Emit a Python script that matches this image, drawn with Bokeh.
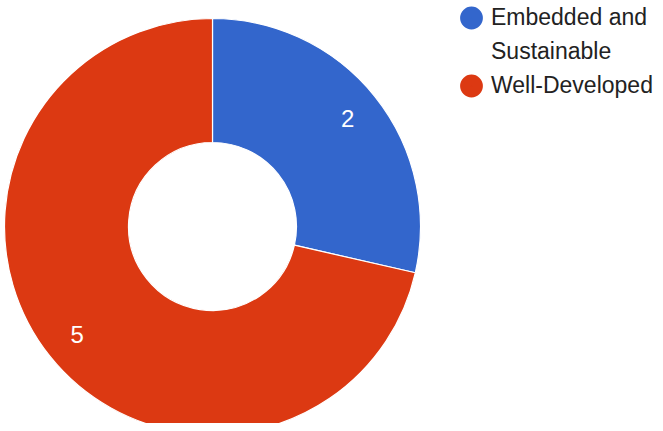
import numpy as np
from bokeh.plotting import figure
from bokeh.models import Range1d, ColumnDataSource, Legend, LegendItem
from bokeh.core.properties import value
from bokeh.embed import file_html
from bokeh.resources import INLINE

categories = ["Embedded and Sustainable", "Well-Developed"]
legend_lines = [["Embedded and", "Sustainable"], ["Well-Developed"]]
counts = [2, 5]
colors = ["#3366cc", "#dc3912"]

W, H = 655, 423
CX, CY = 212, 197
R_OUT, R_IN, R_LBL = 208, 84, 173

vals = np.array(counts, dtype=float)
fr = vals / vals.sum()
ends = np.cumsum(fr)
starts = ends - fr
start_angle = np.pi / 2 - 2 * np.pi * starts
end_angle = np.pi / 2 - 2 * np.pi * ends
mid = (start_angle + end_angle) / 2

src = ColumnDataSource(dict(
    cat=categories, val=counts, color=colors,
    sa=start_angle, ea=end_angle,
    lx=CX + R_LBL * np.cos(mid), ly=CY + R_LBL * np.sin(mid),
    lbl=[str(v) for v in counts],
))

p = figure(width=W, height=H, x_range=Range1d(0, W), y_range=Range1d(0, H),
           x_axis_type=None, y_axis_type=None, min_border=0,
           toolbar_location=None, output_backend="svg", outline_line_color=None)
p.grid.visible = False

p.annular_wedge(x=CX, y=CY, inner_radius=R_IN, outer_radius=R_OUT,
                inner_radius_units="screen", outer_radius_units="screen",
                start_angle="sa", end_angle="ea", direction="clock",
                fill_color="color", line_color="white", line_width=1.2, source=src)

p.text(x="lx", y="ly", text="lbl", source=src, text_color="white",
       text_font=value("Liberation Sans"), text_font_size="24px",
       text_align="center", text_baseline="middle")

items = []
for lines, col in zip(legend_lines, colors):
    for i, line in enumerate(lines):
        alpha = 1.0 if i == 0 else 0.0
        r = p.scatter(x=[np.nan], y=[np.nan], marker="circle", fill_color=col,
                      line_color=col, line_width=12, size=10,
                      fill_alpha=alpha, line_alpha=alpha)
        items.append(LegendItem(label=line, renderers=[r]))

legend = Legend(items=items, location=(452, 324),
                glyph_width=38, glyph_height=27, label_standoff=1,
                padding=0, margin=0, spacing=7,
                background_fill_alpha=0, border_line_color=None,
                label_text_font="Liberation Sans", label_text_font_size="23px",
                label_text_color="#222222")
p.add_layout(legend)

open("out.html", "w").write(file_html(p, INLINE))
